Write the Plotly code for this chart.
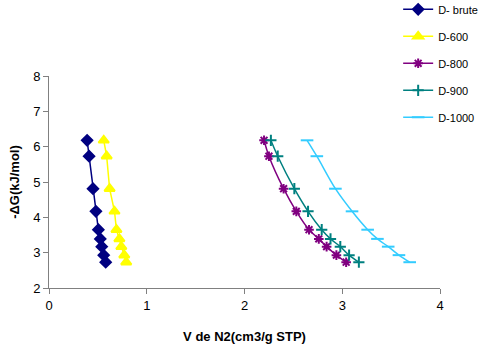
import plotly.graph_objects as go

dg = [6.18, 5.73, 4.81, 4.17, 3.65, 3.39, 3.17, 2.93, 2.73]
v_brute = [0.39, 0.41, 0.45, 0.48, 0.505, 0.525, 0.54, 0.56, 0.58]
v_600 = [0.56, 0.59, 0.62, 0.67, 0.69, 0.72, 0.74, 0.77, 0.79]
v_800 = [2.20, 2.25, 2.40, 2.53, 2.66, 2.76, 2.84, 2.94, 3.04]
v_900 = [2.27, 2.34, 2.51, 2.65, 2.79, 2.88, 2.98, 3.07, 3.17]
v_1000 = [2.64, 2.74, 2.93, 3.10, 3.26, 3.36, 3.47, 3.58, 3.69]
names = ["D- brute", "D-600", "D-800", "D-900", "D-1000"]

series = [
    (v_brute, names[0], "#000080", "diamond", 8, "linear"),
    (v_600, names[1], "#FFFF00", "triangle-up", 9, "linear"),
    (v_800, names[2], "#800080", "asterisk-open", 8, "spline"),
    (v_900, names[3], "#008080", "cross-thin-open", 8, "spline"),
    (v_1000, names[4], "#33CCFF", "line-ew-open", 9, "spline"),
]

fig = go.Figure()
for i, (xs, nm, col, sym, sz, shape) in enumerate(series):
    fig.add_trace(go.Scatter(
        x=xs, y=dg, name=nm, mode="lines+markers",
        line=dict(color=col, width=1.5, shape=shape),
        marker=dict(symbol=sym, size=sz, color=col, line=dict(color=col, width=2)),
        legendgroup=f"g{i}",
    ))

fig.update_layout(
    width=483, height=359,
    margin=dict(l=49, r=43, t=76, b=71, autoexpand=False),
    paper_bgcolor="white", plot_bgcolor="white",
    font=dict(family="Liberation Sans, Arial, sans-serif", size=13, color="black"),
    showlegend=True,
    legend=dict(x=0.893, y=1.383, xanchor="left", yanchor="top",
                font=dict(size=11), tracegroupgap=8,
                bgcolor="rgba(0,0,0,0)"),
    xaxis=dict(range=[0, 4], tickvals=[0, 1, 2, 3, 4], showgrid=False, zeroline=False,
               showline=True, linecolor="#808080", linewidth=1, ticks="outside",
               ticklen=5, tickcolor="#808080",
               title=dict(text="<b>V de N2(cm3/g STP)</b>", font=dict(size=13), standoff=20)),
    yaxis=dict(range=[2, 8], tickvals=[2, 3, 4, 5, 6, 7, 8], showgrid=False, zeroline=False,
               showline=True, linecolor="#808080", linewidth=1, ticks="outside",
               ticklen=5, tickcolor="#808080",
               title=dict(text="<b>-ΔG(kJ/mol)</b>", font=dict(size=13), standoff=10)),
)

fig.write_html("out.html")
